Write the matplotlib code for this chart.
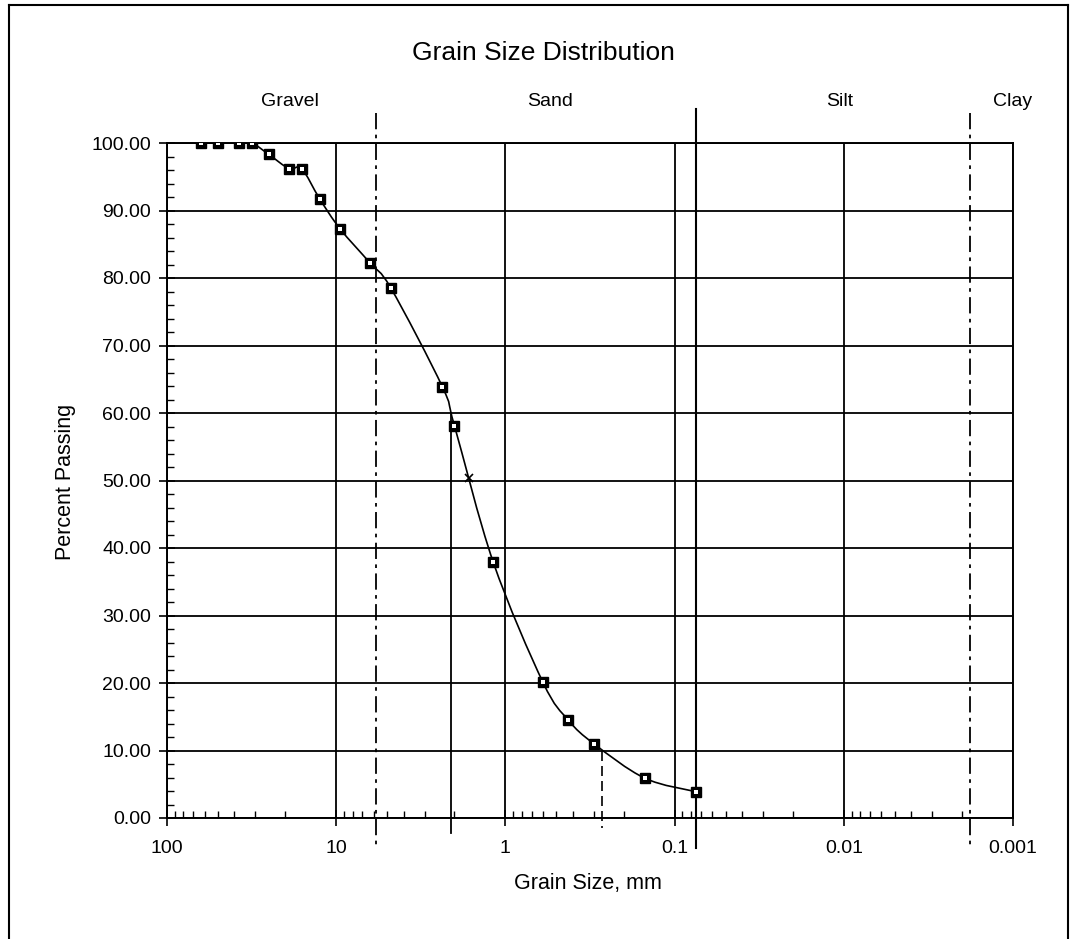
import numpy as np
import matplotlib
matplotlib.use("Agg")
import matplotlib.pyplot as plt
from matplotlib.path import Path
from matplotlib.patches import PathPatch
from matplotlib.lines import Line2D
from matplotlib.ticker import FixedLocator, LogLocator, NullFormatter, MultipleLocator

plt.rcParams["font.family"] = ["Liberation Sans", "DejaVu Sans"]

# Sieve analysis results
sieve_mm = [63, 50, 37.5, 31.5, 25, 19, 16, 12.5, 9.5, 6.3, 4.75,
            2.36, 2.0, 1.18, 0.6, 0.425, 0.3, 0.15, 0.075]
percent_passing = [100.0, 100.0, 100.0, 100.0, 98.3, 96.2, 96.2, 91.7, 87.3,
                   82.2, 78.5, 63.9, 58.1, 37.9, 20.1, 14.5, 11.0, 5.9, 3.9]

# D50 marker
d50_mm = [1.63]
d50_pct = [50.3]

# Characteristic sizes drawn as drop lines (size, starting percent)
d60_mm, d60_pct = 2.11, 60.0
d10_mm, d10_pct = 0.267, 10.0

# Soil class boundaries (mm)
gravel_sand_mm = 5.85
sand_silt_mm = 0.075
silt_clay_mm = 0.0018

class_names = ["Gravel", "Sand", "Silt", "Clay"]

x_ticks = [100, 10, 1, 0.1, 0.01, 0.001]
x_ticklabels = ["100", "10", "1", "0.1", "0.01", "0.001"]
y_ticks = [0, 10, 20, 30, 40, 50, 60, 70, 80, 90, 100]

W, H = 1072, 939
fig = plt.figure(figsize=(W / 100, H / 100), dpi=100)
fig.patch.set_facecolor("white")

# axes placed in pixel terms
L, R, T, B = 167, 1013, 143, 818
ax = fig.add_axes([L / W, 1 - B / H, (R - L) / W, (B - T) / H])
ax.set_xscale("log")
ax.set_xlim(100, 0.001)
ax.set_ylim(0, 100)

for s in ax.spines.values():
    s.set_color("black")
    s.set_linewidth(1.4)

ax.xaxis.set_major_locator(FixedLocator(x_ticks))
ax.set_xticks(x_ticks)
ax.set_xticklabels(x_ticklabels)
ax.xaxis.set_minor_locator(LogLocator(base=10, subs=np.arange(2, 10)))
ax.xaxis.set_minor_formatter(NullFormatter())
ax.set_yticks(y_ticks)
ax.set_yticklabels([f"{v:.2f}" for v in y_ticks])
ax.yaxis.set_minor_locator(MultipleLocator(2))

ax.tick_params(axis="both", which="major", direction="inout", length=11,
               width=1.2, labelsize=14, color="black")
ax.tick_params(axis="x", which="major", pad=10)
ax.tick_params(axis="y", which="major", pad=6)
ax.tick_params(axis="both", which="minor", direction="in", length=5,
               width=1.0, color="black")

ax.grid(True, which="major", color="black", linewidth=1.3)
ax.set_axisbelow(True)

# smooth curve through the points (Catmull-Rom as cubic Beziers in log-x space)
u = np.log10(np.asarray(sieve_mm, dtype=float))
v = np.asarray(percent_passing, dtype=float)
P = np.column_stack([u, v])
n = len(P)
verts = [P[0]]
codes = [Path.MOVETO]
for i in range(n - 1):
    p0 = P[i - 1] if i > 0 else P[i]
    p1 = P[i]
    p2 = P[i + 1]
    p3 = P[i + 2] if i + 2 < n else P[i + 1]
    c1 = p1 + (p2 - p0) / 6.0
    c2 = p2 - (p3 - p1) / 6.0
    verts += [c1, c2, p2]
    codes += [Path.CURVE4] * 3
verts = np.array(verts)
verts[:, 0] = 10 ** verts[:, 0]
curve = PathPatch(Path(verts, codes), fill=False, edgecolor="black",
                  linewidth=1.2, transform=ax.transData, zorder=3)
ax.add_patch(curve)

# solid square markers with a small light core
ax.plot(sieve_mm, percent_passing, linestyle="none", marker="s",
        markersize=7, markerfacecolor="black", markeredgecolor="black",
        markeredgewidth=1.0, zorder=4)
ax.plot(sieve_mm, percent_passing, linestyle="none", marker="s",
        markersize=2.2, markerfacecolor="white", markeredgewidth=0, zorder=5)
ax.plot(d50_mm, d50_pct, linestyle="none", marker="x", markersize=6,
        markeredgecolor="black", markeredgewidth=1.2, zorder=4)

# class boundary lines, running above and below the plotting area
dashdot = (0, (9, 3, 2, 3))
ax.plot([gravel_sand_mm, gravel_sand_mm], [104.4, -4.4], color="black",
        linewidth=1.3, linestyle=dashdot, clip_on=False, zorder=2)
ax.plot([sand_silt_mm, sand_silt_mm], [105.0, -4.4], color="black",
        linewidth=1.5, clip_on=False, zorder=2)
ax.plot([silt_clay_mm, silt_clay_mm], [104.4, -4.4], color="black",
        linewidth=1.3, linestyle=dashdot, clip_on=False, zorder=2)

# D60 / D10 drop lines
ax.plot([d60_mm, d60_mm], [d60_pct, -2.2], color="black", linewidth=1.3,
        clip_on=False, zorder=2)
ax.plot([d10_mm, d10_mm], [d10_pct, -1.5], color="black", linewidth=1.2,
        linestyle=(0, (6, 3)), clip_on=False, zorder=2)


def ftext(px, py, s, **kw):
    fig.text(px / W, 1 - py / H, s, ha="center", va="center", **kw)


ftext(543, 53, "Grain Size Distribution", fontsize=19)
for name, px in zip(class_names, [290, 550, 840, 1013]):
    ftext(px, 102, name, fontsize=14)
ftext(588, 883, "Grain Size, mm", fontsize=15.5)
ftext(65, 482, "Percent Passing", fontsize=15.5, rotation=90)

# outer frame of the sheet
frame_kw = dict(color="black", linewidth=1.5, transform=fig.transFigure)
fig.add_artist(Line2D([9 / W, 1068 / W], [1 - 5 / H, 1 - 5 / H], **frame_kw))
fig.add_artist(Line2D([9 / W, 9 / W], [1 - 5 / H, 0], **frame_kw))
fig.add_artist(Line2D([1068 / W, 1068 / W], [1 - 5 / H, 0], **frame_kw))

fig.savefig("out.png", dpi=100)
